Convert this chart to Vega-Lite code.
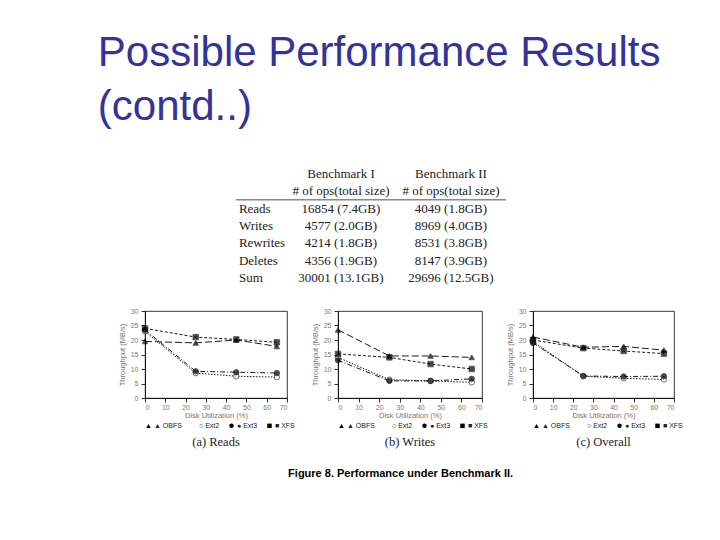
{
  "$schema": "https://vega.github.io/schema/vega-lite/v6.json",
  "background": "white",
  "padding": {"left": 97, "top": 32, "right": 5, "bottom": 5},
  "title": {
    "text": ["Possible Performance Results", "(contd..)"],
    "anchor": "start",
    "font": "Liberation Sans",
    "fontSize": 42,
    "fontWeight": "normal",
    "color": "#333399",
    "lineHeight": 54,
    "dx": -20,
    "offset": 36
  },
  "datasets": {
    "perf": [
      {"panel": "Reads", "fs": "OBFS", "util": 0, "tp": 19.5},
      {"panel": "Reads", "fs": "OBFS", "util": 25, "tp": 19},
      {"panel": "Reads", "fs": "OBFS", "util": 45, "tp": 20},
      {"panel": "Reads", "fs": "OBFS", "util": 65, "tp": 17.8},
      {"panel": "Reads", "fs": "Ext2", "util": 0, "tp": 23},
      {"panel": "Reads", "fs": "Ext2", "util": 25, "tp": 8.6},
      {"panel": "Reads", "fs": "Ext2", "util": 45, "tp": 7.5},
      {"panel": "Reads", "fs": "Ext2", "util": 65, "tp": 7.2},
      {"panel": "Reads", "fs": "Ext3", "util": 0, "tp": 23.5},
      {"panel": "Reads", "fs": "Ext3", "util": 25, "tp": 9.2},
      {"panel": "Reads", "fs": "Ext3", "util": 45, "tp": 8.9},
      {"panel": "Reads", "fs": "Ext3", "util": 65, "tp": 8.6},
      {"panel": "Reads", "fs": "XFS", "util": 0, "tp": 24},
      {"panel": "Reads", "fs": "XFS", "util": 25, "tp": 21},
      {"panel": "Reads", "fs": "XFS", "util": 45, "tp": 20.2},
      {"panel": "Reads", "fs": "XFS", "util": 65, "tp": 19.2},
      {"panel": "Writes", "fs": "OBFS", "util": 0, "tp": 23.5},
      {"panel": "Writes", "fs": "OBFS", "util": 25, "tp": 14.5},
      {"panel": "Writes", "fs": "OBFS", "util": 45, "tp": 14.5},
      {"panel": "Writes", "fs": "OBFS", "util": 65, "tp": 14},
      {"panel": "Writes", "fs": "Ext2", "util": 0, "tp": 14},
      {"panel": "Writes", "fs": "Ext2", "util": 25, "tp": 6.3},
      {"panel": "Writes", "fs": "Ext2", "util": 45, "tp": 5.9},
      {"panel": "Writes", "fs": "Ext2", "util": 65, "tp": 5.4},
      {"panel": "Writes", "fs": "Ext3", "util": 0, "tp": 13},
      {"panel": "Writes", "fs": "Ext3", "util": 25, "tp": 5.9},
      {"panel": "Writes", "fs": "Ext3", "util": 45, "tp": 5.9},
      {"panel": "Writes", "fs": "Ext3", "util": 65, "tp": 6.6},
      {"panel": "Writes", "fs": "XFS", "util": 0, "tp": 15.2},
      {"panel": "Writes", "fs": "XFS", "util": 25, "tp": 14},
      {"panel": "Writes", "fs": "XFS", "util": 45, "tp": 11.7},
      {"panel": "Writes", "fs": "XFS", "util": 65, "tp": 10},
      {"panel": "Overall", "fs": "OBFS", "util": 0, "tp": 21},
      {"panel": "Overall", "fs": "OBFS", "util": 25, "tp": 17.5},
      {"panel": "Overall", "fs": "OBFS", "util": 45, "tp": 17.8},
      {"panel": "Overall", "fs": "OBFS", "util": 65, "tp": 16.5},
      {"panel": "Overall", "fs": "Ext2", "util": 0, "tp": 19.5},
      {"panel": "Overall", "fs": "Ext2", "util": 25, "tp": 7.5},
      {"panel": "Overall", "fs": "Ext2", "util": 45, "tp": 6.8},
      {"panel": "Overall", "fs": "Ext2", "util": 65, "tp": 6.4},
      {"panel": "Overall", "fs": "Ext3", "util": 0, "tp": 19},
      {"panel": "Overall", "fs": "Ext3", "util": 25, "tp": 7.6},
      {"panel": "Overall", "fs": "Ext3", "util": 45, "tp": 7.4},
      {"panel": "Overall", "fs": "Ext3", "util": 65, "tp": 7.5},
      {"panel": "Overall", "fs": "XFS", "util": 0, "tp": 20},
      {"panel": "Overall", "fs": "XFS", "util": 25, "tp": 17.2},
      {"panel": "Overall", "fs": "XFS", "util": 45, "tp": 16.2},
      {"panel": "Overall", "fs": "XFS", "util": 65, "tp": 15.3}
    ],
    "table": [
      {"row": "Benchmark", "bench": "Benchmark I", "text": "Benchmark I"},
      {"row": "Benchmark", "bench": "Benchmark II", "text": "Benchmark II"},
      {"row": "# of ops", "bench": "Benchmark I", "text": "# of ops(total size)"},
      {"row": "# of ops", "bench": "Benchmark II", "text": "# of ops(total size)"},
      {"row": "Reads", "bench": "label", "text": "Reads"},
      {"row": "Reads", "bench": "Benchmark I", "text": "16854 (7.4GB)"},
      {"row": "Reads", "bench": "Benchmark II", "text": "4049 (1.8GB)"},
      {"row": "Writes", "bench": "label", "text": "Writes"},
      {"row": "Writes", "bench": "Benchmark I", "text": "4577 (2.0GB)"},
      {"row": "Writes", "bench": "Benchmark II", "text": "8969 (4.0GB)"},
      {"row": "Rewrites", "bench": "label", "text": "Rewrites"},
      {"row": "Rewrites", "bench": "Benchmark I", "text": "4214 (1.8GB)"},
      {"row": "Rewrites", "bench": "Benchmark II", "text": "8531 (3.8GB)"},
      {"row": "Deletes", "bench": "label", "text": "Deletes"},
      {"row": "Deletes", "bench": "Benchmark I", "text": "4356 (1.9GB)"},
      {"row": "Deletes", "bench": "Benchmark II", "text": "8147 (3.9GB)"},
      {"row": "Sum", "bench": "label", "text": "Sum"},
      {"row": "Sum", "bench": "Benchmark I", "text": "30001 (13.1GB)"},
      {"row": "Sum", "bench": "Benchmark II", "text": "29696 (12.5GB)"}
    ]
  },
  "spacing": 19,
  "vconcat": [
    {
      "width": 403,
      "height": 122,
      "data": {"name": "table"},
      "view": {"stroke": null},
      "layer": [
        {
          "transform": [{"filter": "datum.bench == 'label'"}],
          "mark": {"type": "text", "align": "left", "baseline": "middle", "font": "Liberation Serif", "fontSize": 13, "color": "#222"},
          "encoding": {
            "x": {"field": "bench", "type": "nominal", "bandPosition": 0.19, "axis": null,
                  "scale": {"type": "band", "domain": ["label", "Benchmark I", "Benchmark II"], "paddingInner": 0, "paddingOuter": 0.3318, "align": 1}},
            "y": {"field": "row", "type": "nominal", "bandPosition": 0.5, "axis": null,
                  "scale": {"type": "band", "domain": ["Benchmark", "# of ops", "Reads", "Writes", "Rewrites", "Deletes", "Sum"], "paddingInner": 0, "paddingOuter": 0}},
            "text": {"field": "text"}
          }
        },
        {
          "transform": [{"filter": "datum.bench != 'label'"}],
          "mark": {"type": "text", "align": "center", "baseline": "middle", "font": "Liberation Serif", "fontSize": 13, "color": "#222"},
          "encoding": {
            "x": {"field": "bench", "type": "nominal", "bandPosition": 0.118, "axis": null},
            "y": {"field": "row", "type": "nominal", "bandPosition": 0.5, "axis": null},
            "text": {"field": "text"}
          }
        },
        {
          "transform": [{"filter": "datum.row == 'Reads' && datum.bench == 'label'"}],
          "mark": {"type": "rule", "color": "#222", "strokeWidth": 0.8},
          "encoding": {
            "x": {"field": "bench", "type": "nominal", "bandPosition": 0.164, "axis": null},
            "x2": {"datum": "Benchmark II", "bandPosition": 0.618},
            "y": {"field": "row", "type": "nominal", "bandPosition": 0, "axis": null}
          }
        }
      ]
    },
    {
      "bounds": "flush",
      "spacing": 51,
      "title": {"text": "Figure 8. Performance under Benchmark II.", "orient": "bottom", "anchor": "middle", "font": "Liberation Sans", "fontSize": 11, "fontWeight": "bold", "color": "#000", "offset": 19},
      "hconcat": [
        {
          "width": 142, "height": 87,
          "title": {"text": "(a) Reads", "orient": "bottom", "anchor": "middle", "font": "Liberation Serif", "fontSize": 12.5, "fontWeight": "normal", "color": "#222", "offset": 6},
          "data": {"name": "perf"},
          "transform": [{"filter": "datum.panel == 'Reads'"}],
          "encoding": {
            "x": {"field": "util", "type": "quantitative", "scale": {"domain": [0, 70], "nice": false}, "axis": {"values": [0, 10, 20, 30, 40, 50, 60, 70], "title": "Disk Utilization (%)"}},
            "y": {"field": "tp", "type": "quantitative", "scale": {"domain": [0, 30], "nice": false}, "axis": {"values": [0, 5, 10, 15, 20, 25, 30], "title": "Throughput (MB/s)"}}
          },
          "layer": [
            {"mark": {"type": "line", "color": "#000", "strokeWidth": 0.9},
             "encoding": {"strokeDash": {"field": "fs", "type": "nominal", "scale": {"domain": ["OBFS", "Ext2", "Ext3", "XFS"], "range": [[7, 3], [1.5, 1.5], [5, 2, 1, 2], [3, 2]]}, "legend": null}}},
            {"mark": {"type": "point", "filled": true, "stroke": "#000", "strokeWidth": 0.8, "size": 30},
             "encoding": {
               "shape": {"field": "fs", "type": "nominal", "scale": {"domain": ["OBFS", "Ext2", "Ext3", "XFS"], "range": ["triangle-up", "circle", "circle", "square"]},
                         "legend": {"title": null, "orient": "bottom", "direction": "horizontal", "columns": 4, "labelFontSize": 7, "symbolSize": 20, "symbolStrokeColor": "#000", "symbolStrokeWidth": 0.8, "labelColor": "#222", "symbolOpacity": 1, "columnPadding": 7, "labelOffset": 2, "offset": 3,
                                    "labelExpr": "datum.label == 'OBFS' ? '▲ OBFS' : datum.label == 'Ext2' ? '○ Ext2' : datum.label == 'Ext3' ? '● Ext3' : '■ XFS'"}},
               "fill": {"field": "fs", "type": "nominal", "scale": {"domain": ["OBFS", "Ext2", "Ext3", "XFS"], "range": ["#000", "#fff", "#000", "#000"]},
                         "legend": {"title": null, "orient": "bottom", "direction": "horizontal", "columns": 4, "labelFontSize": 7, "symbolSize": 20, "symbolStrokeColor": "#000", "symbolStrokeWidth": 0.8, "labelColor": "#222", "symbolOpacity": 1, "columnPadding": 7, "labelOffset": 2, "offset": 3,
                                    "labelExpr": "datum.label == 'OBFS' ? '▲ OBFS' : datum.label == 'Ext2' ? '○ Ext2' : datum.label == 'Ext3' ? '● Ext3' : '■ XFS'"}}
             }}
          ]
        },
        {
          "width": 144, "height": 87,
          "title": {"text": "(b) Writes", "orient": "bottom", "anchor": "middle", "font": "Liberation Serif", "fontSize": 12.5, "fontWeight": "normal", "color": "#222", "offset": 6},
          "data": {"name": "perf"},
          "transform": [{"filter": "datum.panel == 'Writes'"}],
          "encoding": {
            "x": {"field": "util", "type": "quantitative", "scale": {"domain": [0, 70], "nice": false}, "axis": {"values": [0, 10, 20, 30, 40, 50, 60, 70], "title": "Disk Utilization (%)"}},
            "y": {"field": "tp", "type": "quantitative", "scale": {"domain": [0, 30], "nice": false}, "axis": {"values": [0, 5, 10, 15, 20, 25, 30], "title": "Throughput (MB/s)"}}
          },
          "layer": [
            {"mark": {"type": "line", "color": "#000", "strokeWidth": 0.9},
             "encoding": {"strokeDash": {"field": "fs", "type": "nominal", "scale": {"domain": ["OBFS", "Ext2", "Ext3", "XFS"], "range": [[7, 3], [1.5, 1.5], [5, 2, 1, 2], [3, 2]]}, "legend": null}}},
            {"mark": {"type": "point", "filled": true, "stroke": "#000", "strokeWidth": 0.8, "size": 30},
             "encoding": {
               "shape": {"field": "fs", "type": "nominal", "scale": {"domain": ["OBFS", "Ext2", "Ext3", "XFS"], "range": ["triangle-up", "circle", "circle", "square"]},
                         "legend": {"title": null, "orient": "bottom", "direction": "horizontal", "columns": 4, "labelFontSize": 7, "symbolSize": 20, "symbolStrokeColor": "#000", "symbolStrokeWidth": 0.8, "labelColor": "#222", "symbolOpacity": 1, "columnPadding": 7, "labelOffset": 2, "offset": 3,
                                    "labelExpr": "datum.label == 'OBFS' ? '▲ OBFS' : datum.label == 'Ext2' ? '○ Ext2' : datum.label == 'Ext3' ? '● Ext3' : '■ XFS'"}},
               "fill": {"field": "fs", "type": "nominal", "scale": {"domain": ["OBFS", "Ext2", "Ext3", "XFS"], "range": ["#000", "#fff", "#000", "#000"]},
                         "legend": {"title": null, "orient": "bottom", "direction": "horizontal", "columns": 4, "labelFontSize": 7, "symbolSize": 20, "symbolStrokeColor": "#000", "symbolStrokeWidth": 0.8, "labelColor": "#222", "symbolOpacity": 1, "columnPadding": 7, "labelOffset": 2, "offset": 3,
                                    "labelExpr": "datum.label == 'OBFS' ? '▲ OBFS' : datum.label == 'Ext2' ? '○ Ext2' : datum.label == 'Ext3' ? '● Ext3' : '■ XFS'"}}
             }}
          ]
        },
        {
          "width": 141, "height": 87,
          "title": {"text": "(c) Overall", "orient": "bottom", "anchor": "middle", "font": "Liberation Serif", "fontSize": 12.5, "fontWeight": "normal", "color": "#222", "offset": 6},
          "data": {"name": "perf"},
          "transform": [{"filter": "datum.panel == 'Overall'"}],
          "encoding": {
            "x": {"field": "util", "type": "quantitative", "scale": {"domain": [0, 70], "nice": false}, "axis": {"values": [0, 10, 20, 30, 40, 50, 60, 70], "title": "Disk Utilization (%)"}},
            "y": {"field": "tp", "type": "quantitative", "scale": {"domain": [0, 30], "nice": false}, "axis": {"values": [0, 5, 10, 15, 20, 25, 30], "title": "Throughput (MB/s)"}}
          },
          "layer": [
            {"mark": {"type": "line", "color": "#000", "strokeWidth": 0.9},
             "encoding": {"strokeDash": {"field": "fs", "type": "nominal", "scale": {"domain": ["OBFS", "Ext2", "Ext3", "XFS"], "range": [[7, 3], [1.5, 1.5], [5, 2, 1, 2], [3, 2]]}, "legend": null}}},
            {"mark": {"type": "point", "filled": true, "stroke": "#000", "strokeWidth": 0.8, "size": 30},
             "encoding": {
               "shape": {"field": "fs", "type": "nominal", "scale": {"domain": ["OBFS", "Ext2", "Ext3", "XFS"], "range": ["triangle-up", "circle", "circle", "square"]},
                         "legend": {"title": null, "orient": "bottom", "direction": "horizontal", "columns": 4, "labelFontSize": 7, "symbolSize": 20, "symbolStrokeColor": "#000", "symbolStrokeWidth": 0.8, "labelColor": "#222", "symbolOpacity": 1, "columnPadding": 7, "labelOffset": 2, "offset": 3,
                                    "labelExpr": "datum.label == 'OBFS' ? '▲ OBFS' : datum.label == 'Ext2' ? '○ Ext2' : datum.label == 'Ext3' ? '● Ext3' : '■ XFS'"}},
               "fill": {"field": "fs", "type": "nominal", "scale": {"domain": ["OBFS", "Ext2", "Ext3", "XFS"], "range": ["#000", "#fff", "#000", "#000"]},
                         "legend": {"title": null, "orient": "bottom", "direction": "horizontal", "columns": 4, "labelFontSize": 7, "symbolSize": 20, "symbolStrokeColor": "#000", "symbolStrokeWidth": 0.8, "labelColor": "#222", "symbolOpacity": 1, "columnPadding": 7, "labelOffset": 2, "offset": 3,
                                    "labelExpr": "datum.label == 'OBFS' ? '▲ OBFS' : datum.label == 'Ext2' ? '○ Ext2' : datum.label == 'Ext3' ? '● Ext3' : '■ XFS'"}}
             }}
          ]
        }
      ],
      "resolve": {"scale": {"shape": "independent", "fill": "independent"}, "legend": {"shape": "independent", "fill": "independent"}}
    }
  ],
  "config": {
    "font": "Liberation Sans",
    "view": {"stroke": "#000", "strokeWidth": 0.8},
    "axis": {"labelFontSize": 7, "titleFontSize": 7.5, "labelColor": "#777", "titleColor": "#777", "titleFontWeight": "normal", "domainColor": "#000", "tickColor": "#000", "tickSize": 4, "grid": false, "domainWidth": 0.8, "tickWidth": 0.8, "labelFont": "Liberation Sans", "titleFont": "Liberation Sans"},
    "axisX": {"labelPadding": 1, "titlePadding": 1},
    "axisY": {"labelPadding": 3, "titlePadding": 4}
  }
}
